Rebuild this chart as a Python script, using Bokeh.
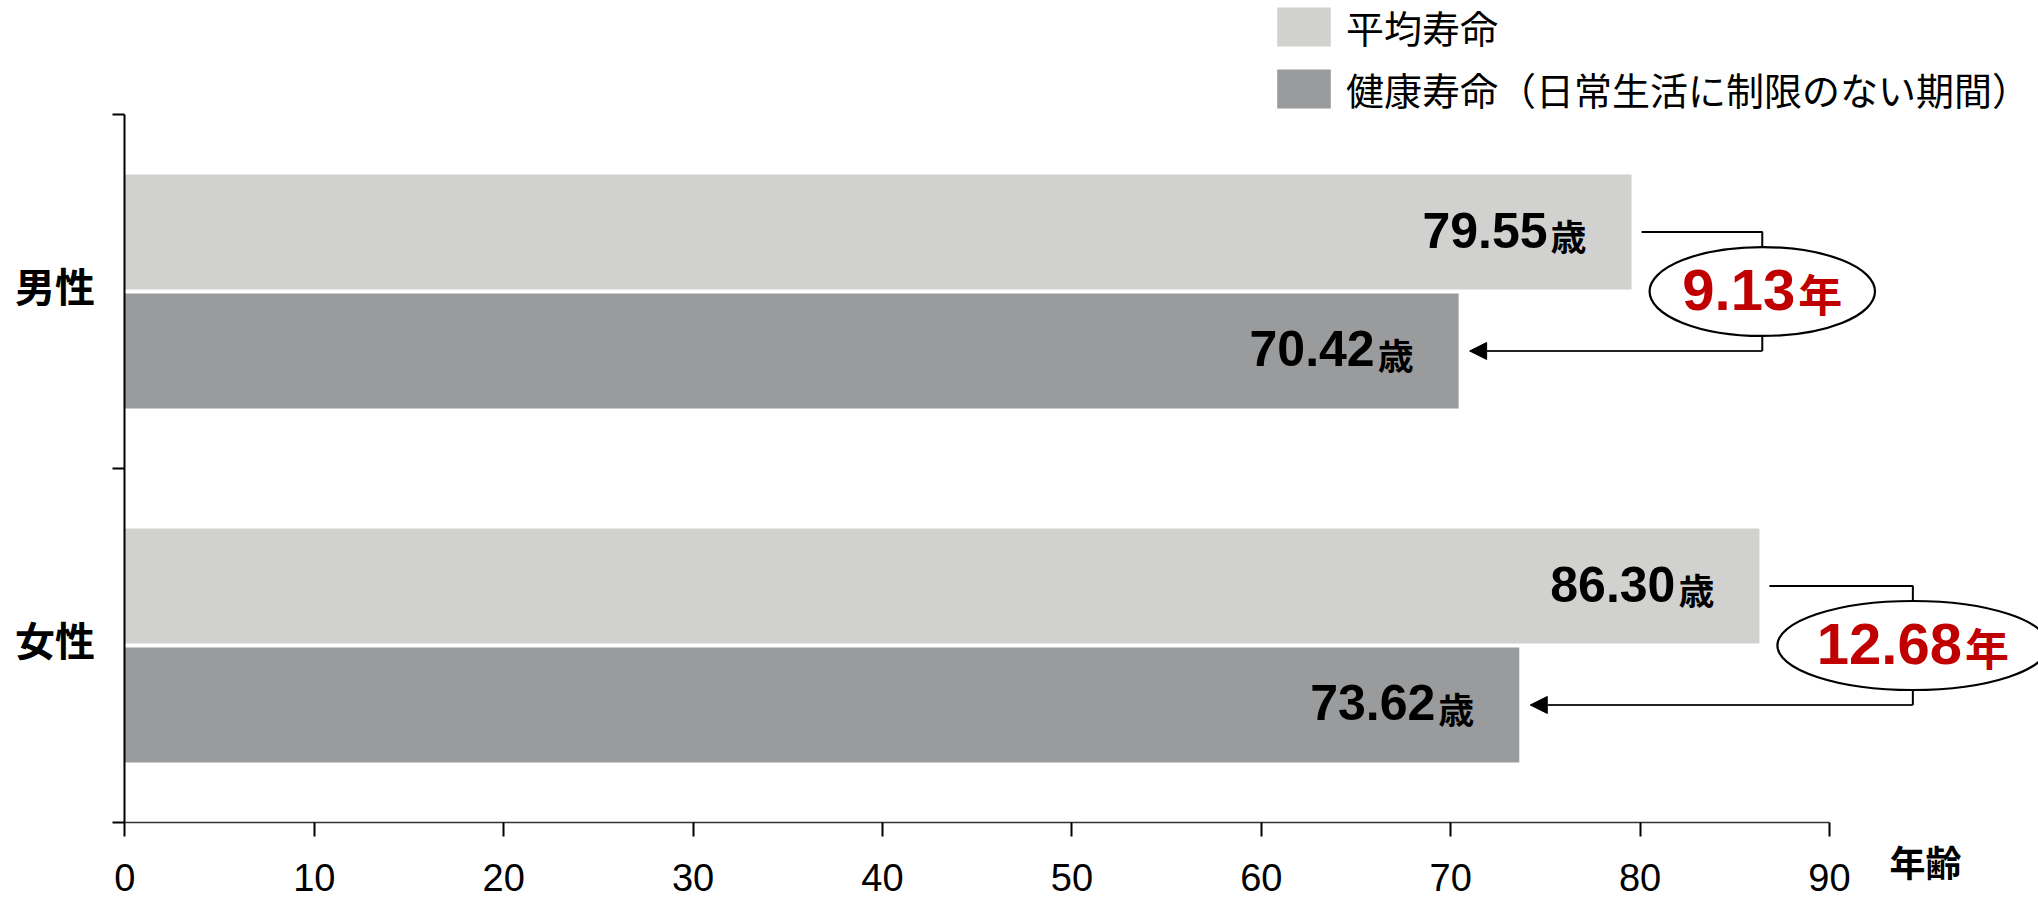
from bokeh.plotting import figure
from bokeh.models import (Range1d, FixedTicker, ColumnDataSource, Legend, LegendItem,
                          Arrow, NormalHead)
from bokeh.core.properties import value
from bokeh.embed import file_html
from bokeh.resources import INLINE

# ---------------- data ----------------
categories = ["男性", "女性"]
avg_life = [79.55, 86.30]          # 平均寿命
healthy_life = [70.42, 73.62]      # 健康寿命
series_names = ["平均寿命", "健康寿命（日常生活に制限のない期間）"]
x_ticks = [0, 10, 20, 30, 40, 50, 60, 70, 80, 90]
x_label = "年齢"
age_unit = "歳"
year_unit = "年"

# ---------------- layout constants ----------------
W, H = 2038, 899
x0_px = 124.4          # screen x of age 0
px_per_unit = 18.94
y_px = 354.0           # pixels per category band
y_top_px = 114.0       # screen y of top of the category axis
n = len(categories)
x_min = -x0_px / px_per_unit
x_max = x_min + W / px_per_unit
y_max = n + y_top_px / y_px
y_min = y_max - H / y_px

LIGHT = "#d1d1cf"
DARK = "#9a9b9d"
RED = "#c00000"
CJK = "Noto Sans CJK JP"
LAT = "Liberation Sans"

p = figure(width=W, height=H, x_range=Range1d(x_min, x_max), y_range=Range1d(y_min, y_max),
           output_backend="svg", toolbar_location=None,
           min_border_left=0, min_border_right=0, min_border_top=0, min_border_bottom=0)
p.outline_line_color = None
p.grid.visible = False
p.background_fill_color = "white"
p.border_fill_color = "white"

# x axis
xa = p.xaxis[0]
xa.fixed_location = 0
xa.bounds = (0, x_ticks[-1])
xa.ticker = FixedTicker(ticks=x_ticks)
xa.major_tick_out = 14
xa.major_tick_in = 0
xa.minor_tick_out = 0
xa.minor_tick_in = 0
xa.axis_line_color = "#333333"
xa.axis_line_width = 1.5
xa.major_tick_line_color = "black"
xa.major_tick_line_width = 2
xa.major_label_text_font = LAT
xa.major_label_text_font_size = "38px"
xa.major_label_text_color = "black"
xa.major_label_standoff = 27

# y axis (category names sit in the middle of each band, ticks at band edges)
centers = [n - i - 0.5 for i in range(n)]
label_pos = [c + 0.018 for c in centers]
ya = p.yaxis[0]
ya.fixed_location = 0
ya.bounds = (0, n)
ya.ticker = FixedTicker(ticks=sorted(label_pos), minor_ticks=list(range(n + 1)))
ya.major_label_overrides = {lp: cat for lp, cat in zip(label_pos, categories)}
ya.major_tick_out = 0
ya.major_tick_in = 0
ya.minor_tick_out = 12
ya.minor_tick_in = 0
ya.minor_tick_line_color = "black"
ya.minor_tick_line_width = 2
ya.axis_line_color = "black"
ya.axis_line_width = 2
ya.major_label_text_font = CJK
ya.major_label_text_font_style = "bold"
ya.major_label_text_font_size = "40px"
ya.major_label_text_color = "black"
ya.major_label_standoff = 18

# bars
bar_h = 0.325
off = 0.168
src = ColumnDataSource(dict(
    cat=categories,
    avg=avg_life,
    healthy=healthy_life,
    y_avg=[c + off for c in centers],
    y_h=[c - off for c in centers],
))
r1 = p.hbar(y="y_avg", left=0, right="avg", height=bar_h, fill_color=LIGHT, line_color=None, source=src)
r2 = p.hbar(y="y_h", left=0, right="healthy", height=bar_h, fill_color=DARK, line_color=None, source=src)

# value labels
lab_x = avg_life + healthy_life
lab_y = [c + off for c in centers] + [c - off for c in centers]
lab_src = ColumnDataSource(dict(x=lab_x, y=lab_y, num=[f"{v:.2f}" for v in lab_x],
                                unit=[age_unit] * len(lab_x)))
p.text(x="x", y="y", text="num", source=lab_src, x_offset=-84, y_offset=-2,
       text_align="right", text_baseline="middle", text_font=value(LAT),
       text_font_style="bold", text_font_size="50px", text_color="black")
p.text(x="x", y="y", text="unit", source=lab_src, x_offset=-45, y_offset=3,
       text_align="right", text_baseline="middle", text_font=value(CJK),
       text_font_style="bold", text_font_size="36px", text_color="black")

# difference brackets
diffs = [a - h for a, h in zip(avg_life, healthy_life)]
diff_txt = [f"{d:.2f}" for d in diffs]
num_fs = 58
unit_fs = 44
num_w = [(len(t) - 1) * 0.556 * num_fs + 0.278 * num_fs for t in diff_txt]
tot_w = [w + 3 + unit_fs for w in num_w]
ell_w = [t * 1.41 for t in tot_w]
bx = [a + 0.95 + (ew / 2) / px_per_unit for a, ew in zip(avg_life, ell_w)]
start_gap = 10 / px_per_unit
tip_gap = 11 / px_per_unit

xs = [[a + start_gap, b, b] for a, b in zip(avg_life, bx)]
ys = [[c + off, c + off, c - off] for c in centers]
p.multi_line(xs=xs, ys=ys, line_color="black", line_width=2)

for b, h, c in zip(bx, healthy_life, centers):
    p.add_layout(Arrow(end=NormalHead(size=17, fill_color="black", line_color="black"),
                       x_start=b, y_start=c - off, x_end=h + tip_gap, y_end=c - off,
                       line_color="#222222", line_width=2))

ell_src = ColumnDataSource(dict(
    x=bx, y=centers, w=ell_w, num=diff_txt, unit=[year_unit] * n,
    nx=[-t / 2 + w for t, w in zip(tot_w, num_w)],
    ux=[-t / 2 + w + 3 for t, w in zip(tot_w, num_w)],
))
p.ellipse(x="x", y="y", width="w", height=89, width_units="screen", height_units="screen",
          fill_color="white", line_color="black", line_width=2.2, source=ell_src)
p.text(x="x", y="y", text="num", x_offset="nx", y_offset=-2, source=ell_src,
       text_align="right", text_baseline="middle", text_font=value(LAT),
       text_font_style="bold", text_font_size=f"{num_fs}px", text_color=RED)
p.text(x="x", y="y", text="unit", x_offset="ux", y_offset=1, source=ell_src,
       text_align="left", text_baseline="middle", text_font=value(CJK),
       text_font_style="bold", text_font_size=f"{unit_fs}px", text_color=RED)

# axis title 年齢
p.text(x=[x_ticks[-1]], y=[0], text=[x_label], x_offset=96, y_offset=38,
       text_align="center", text_baseline="middle", text_font=value(CJK),
       text_font_style="bold", text_font_size="36px", text_color="black")

# legend
legend = Legend(items=[LegendItem(label=series_names[0], renderers=[r1]),
                       LegendItem(label=series_names[1], renderers=[r2])],
                location=(1270, 783), orientation="vertical",
                glyph_width=67, glyph_height=49, label_standoff=9, spacing=7,
                padding=0, margin=0, border_line_color=None, background_fill_alpha=0,
                label_text_font=CJK, label_text_font_size="38px", label_text_color="black",
                label_height=49)
p.add_layout(legend)

open("out.html", "w").write(file_html(p, INLINE))
